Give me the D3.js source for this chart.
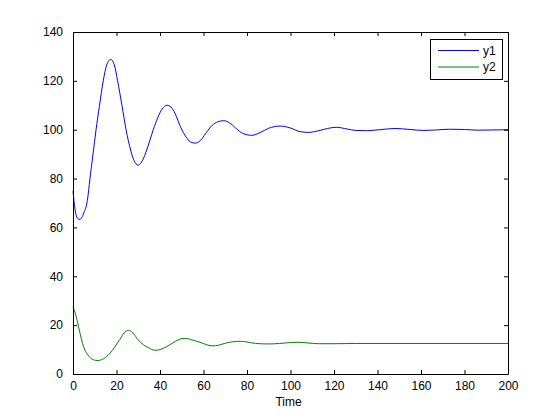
<!doctype html>
<html>
<head>
<meta charset="utf-8"/>
<title>y1 y2 vs Time</title>
<script src="https://d3js.org/d3.v7.min.js"></script>
<style>
  body { margin: 0; background: #fff; }
  text { font-family: "Liberation Sans", Arial, sans-serif; font-size: 12px; fill: #000; }
</style>
</head>
<body>
<div id="chart"></div>
<script>
// values
var timeY1 = [0, 1, 2, 3.2, 5, 6.6, 7.8, 9.2, 10.6, 12.2, 13.9, 15.5, 17.3, 19, 20.5, 22.5, 24.4, 26.5, 28, 30,
  32, 33.9, 36.9, 39, 41, 43.2, 45, 47, 49.5, 52, 54, 56.3, 58.5, 61, 64, 66.5, 69.3, 72, 75, 78, 82.2,
  86, 90, 95.2, 100, 104.4, 108.2, 113, 117, 121, 126, 130, 135, 141, 148, 155, 161, 167, 173, 180, 186, 193, 200];
var y1 = [75, 67, 63.8, 63.3, 66, 71, 80, 90, 100, 110, 120, 126.5, 128.8, 126.5, 120, 110, 100, 91.7, 87.5, 85.5,
  87.5, 91.7, 100, 105, 108.5, 110, 109.3, 106.5, 101, 97, 95, 94.5, 95.5, 98.5, 101.8, 103.2, 103.7, 102.8, 100.5, 98.5, 97.7,
  98.8, 100.6, 101.5, 100.7, 99.2, 98.9, 99.6, 100.5, 101, 100.3, 99.7, 99.6, 100, 100.5, 100.1, 99.7, 99.9, 100.2, 100.1, 99.8, 99.9, 100];

var timeY2 = [0, 1, 2.4, 3.4, 4.4, 5.3, 6.3, 8, 9.5, 11.2, 13, 15, 17, 19.3, 21.6, 23.5, 25.4, 27.5, 30, 32.3,
  34.6, 37.7, 40, 43.1, 46, 48.5, 50.7, 53, 56, 58.4, 61, 64, 67, 70, 73.5, 76.8, 80, 84, 89.7, 95, 100,
  103.4, 108, 113, 120, 130, 200];
var y2 = [27.5, 25, 20, 16, 12.5, 10.2, 8.5, 6.6, 5.8, 5.5, 5.8, 6.8, 8.5, 11.2, 14.2, 16.8, 17.9, 16.8, 13.9, 12,
  10.8, 9.7, 10, 11.2, 12.8, 14, 14.6, 14.4, 13.6, 13, 12.1, 11.5, 11.8, 12.6, 13.2, 13.4, 13.1, 12.5, 12.3, 12.5, 12.9,
  13, 12.7, 12.4, 12.4, 12.5, 12.5];

var xTicks = [0, 20, 40, 60, 80, 100, 120, 140, 160, 180, 200];
var yTicks = [0, 20, 40, 60, 80, 100, 120, 140];
var seriesNames = ["y1", "y2"];
var seriesColors = ["#0000ff", "#008000"];

var width = 560, height = 420;
var plotL = 73, plotR = 508, plotT = 32, plotB = 374;

var svg = d3.select("#chart").append("svg")
  .attr("width", width)
  .attr("height", height);

var x = d3.scaleLinear().domain([0, 200]).range([plotL, plotR]);
var y = d3.scaleLinear().domain([0, 140]).range([plotB, plotT]);

// curves
var line = d3.line()
  .x(function(d) { return x(d[0]); })
  .y(function(d) { return y(d[1]); })
  .curve(d3.curveMonotoneX);

var data = [d3.zip(timeY1, y1), d3.zip(timeY2, y2)];

svg.append("g").selectAll("path")
  .data(data)
  .enter().append("path")
  .attr("d", line)
  .attr("fill", "none")
  .attr("stroke", function(d, i) { return seriesColors[i]; })
  .attr("stroke-width", 1);

// axes, matlab style: ticks pointing in on every side
var tickLen = 4;
svg.append("g").attr("transform", "translate(0," + plotB + ")")
  .call(d3.axisBottom(x).tickValues(xTicks).tickSizeInner(-tickLen).tickSizeOuter(0).tickPadding(7));
svg.append("g").attr("transform", "translate(0," + plotT + ")")
  .call(d3.axisTop(x).tickValues(xTicks).tickSizeInner(-tickLen).tickSizeOuter(0).tickFormat(""));
svg.append("g").attr("transform", "translate(" + plotL + ",0)")
  .call(d3.axisLeft(y).tickValues(yTicks).tickSizeInner(-tickLen).tickSizeOuter(0).tickPadding(10));
svg.append("g").attr("transform", "translate(" + plotR + ",0)")
  .call(d3.axisRight(y).tickValues(yTicks).tickSizeInner(-tickLen).tickSizeOuter(0).tickFormat(""));

svg.selectAll(".domain").attr("stroke", "#000");
svg.selectAll(".tick line").attr("stroke", "#000");
svg.selectAll(".tick text")
  .attr("font-family", "'Liberation Sans', Arial, sans-serif")
  .attr("font-size", 12)
  .attr("fill", "#000");

svg.append("text")
  .attr("x", (plotL + plotR) / 2 - 2)
  .attr("y", 406)
  .attr("text-anchor", "middle")
  .text("Time");

// legend
var lg = svg.append("g");
lg.append("rect")
  .attr("x", 430.5).attr("y", 39.5)
  .attr("width", 72).attr("height", 40)
  .attr("fill", "#fff").attr("stroke", "#000");
lg.selectAll("line.key")
  .data(seriesNames)
  .enter().append("line")
  .attr("class", "key")
  .attr("x1", 438).attr("x2", 479)
  .attr("y1", function(d, i) { return 50.5 + i * 16.5; })
  .attr("y2", function(d, i) { return 50.5 + i * 16.5; })
  .attr("stroke", function(d, i) { return seriesColors[i]; });
lg.selectAll("text.key")
  .data(seriesNames)
  .enter().append("text")
  .attr("class", "key")
  .attr("x", 483)
  .attr("y", function(d, i) { return 54.5 + i * 16.5; })
  .text(function(d) { return d; });
</script>
</body>
</html>
